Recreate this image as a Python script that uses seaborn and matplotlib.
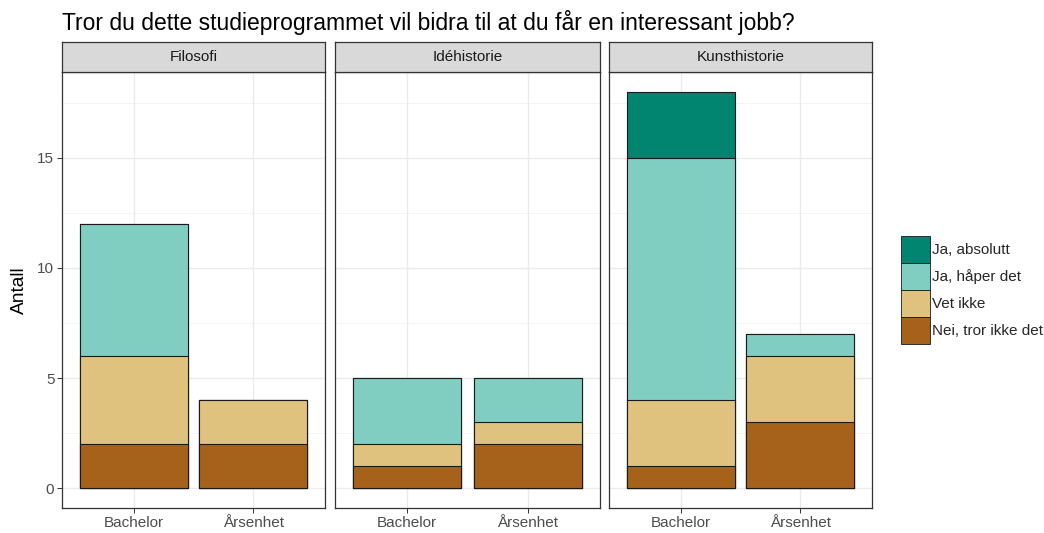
import matplotlib
matplotlib.use("Agg")
import matplotlib.pyplot as plt
import seaborn as sns
import pandas as pd
import numpy as np
from matplotlib.patches import Patch

sns.set_theme(style="white")
plt.rcParams['font.family'] = ['Liberation Sans', 'DejaVu Sans']

# ---- data ----
facets = ["Filosofi", "Idéhistorie", "Kunsthistorie"]
programs = ["Bachelor", "Årsenhet"]
answers = ["Nei, tror ikke det", "Vet ikke", "Ja, håper det", "Ja, absolutt"]  # bottom -> top
nei      = [2, 2, 1, 2, 1, 3]
vet_ikke = [4, 2, 1, 1, 3, 3]
haaper   = [6, 0, 3, 2, 11, 1]
absolutt = [0, 0, 0, 0, 3, 0]
colors = ["#A6611A", "#DFC27D", "#80CDC1", "#018571"]
title = "Tror du dette studieprogrammet vil bidra til at du får en interessant jobb?"
ylabel = "Antall"

rows = []
i = 0
for f in facets:
    for p in programs:
        for a, v in zip(answers, [nei[i], vet_ikke[i], haaper[i], absolutt[i]]):
            rows.append({"fag": f, "program": p, "svar": a, "antall": v})
        i += 1
df = pd.DataFrame(rows)
df["svar"] = pd.Categorical(df["svar"], categories=answers, ordered=True)
df = df.sort_values(["fag", "program", "svar"])
df["cum"] = df.groupby(["fag", "program"])["antall"].cumsum()

fig = plt.figure(figsize=(10.44, 5.33), dpi=100)
W, H = 1044, 533
panels_x = [(62, 325), (335, 600), (609, 872)]
top_px, bot_px, strip_top = 72, 508, 42
FS = 11

for k, f in enumerate(facets):
    x0, x1 = panels_x[k]
    ax = fig.add_axes([x0 / W, 1 - bot_px / H, (x1 - x0) / W, (bot_px - top_px) / H])
    sub = df[df["fag"] == f]
    ax.set_axisbelow(True)
    for lvl in [2.5, 7.5, 12.5, 17.5]:
        ax.axhline(lvl, color="#F2F2F2", lw=0.6, zorder=0)
    for lvl in [0, 5, 10, 15]:
        ax.axhline(lvl, color="#EBEBEB", lw=1.0, zorder=0)
    for xv in [0, 1]:
        ax.axvline(xv, color="#EBEBEB", lw=1.0, zorder=0)
    for a, c in reversed(list(zip(answers, colors))):
        s = sub[sub["svar"] == a]
        sns.barplot(data=s, x="program", y="cum", order=programs, color=c,
                    edgecolor="#1a1a1a", linewidth=0.8, width=0.9, ax=ax,
                    saturation=1, errorbar=None, zorder=2)
    ax.set_xlim(-0.6, 1.6)
    ax.set_ylim(-0.9, 18.9)
    ax.set_yticks([0, 5, 10, 15])
    ax.set_xlabel("")
    ax.set_ylabel("")
    ax.tick_params(axis="both", which="major", length=3.5, width=0.7, color="#333333",
                   labelsize=FS, labelcolor="#4D4D4D", direction="out",
                   bottom=True, left=True, pad=2)
    if k > 0:
        ax.tick_params(axis="y", left=False, labelleft=False)
    for sp in ax.spines.values():
        sp.set_color("#333333")
        sp.set_linewidth(0.9)
    # strip
    sax = fig.add_axes([x0 / W, 1 - top_px / H, (x1 - x0) / W, (top_px - strip_top) / H])
    sax.set_facecolor("#D9D9D9")
    sax.set_xticks([]); sax.set_yticks([])
    for sp in sax.spines.values():
        sp.set_color("#333333")
        sp.set_linewidth(0.9)
    sax.text(0.5, 0.5, f, ha="center", va="center", fontsize=FS, color="#1A1A1A",
             transform=sax.transAxes)

fig.text(62 / W, 1 - 30 / H, title, ha="left", va="baseline", fontsize=16.5, color="black")
fig.text(19 / W, 1 - ((top_px + bot_px) / 2) / H, ylabel, rotation=90, ha="center",
         va="center", fontsize=13.75, color="black")

handles = [Patch(facecolor=c, edgecolor="#1a1a1a", linewidth=0.6, label=a)
           for a, c in zip(answers, colors)][::-1]
fs_px = FS * 100 / 72
fig.legend(handles=handles, loc="center left", bbox_to_anchor=(901 / W, 1 - 290 / H),
           frameon=False, fontsize=FS, handlelength=28.5 / fs_px,
           handleheight=2.32, handletextpad=0.15, labelspacing=0.02,
           borderaxespad=0, borderpad=0)

fig.savefig("out.png", dpi=100)
